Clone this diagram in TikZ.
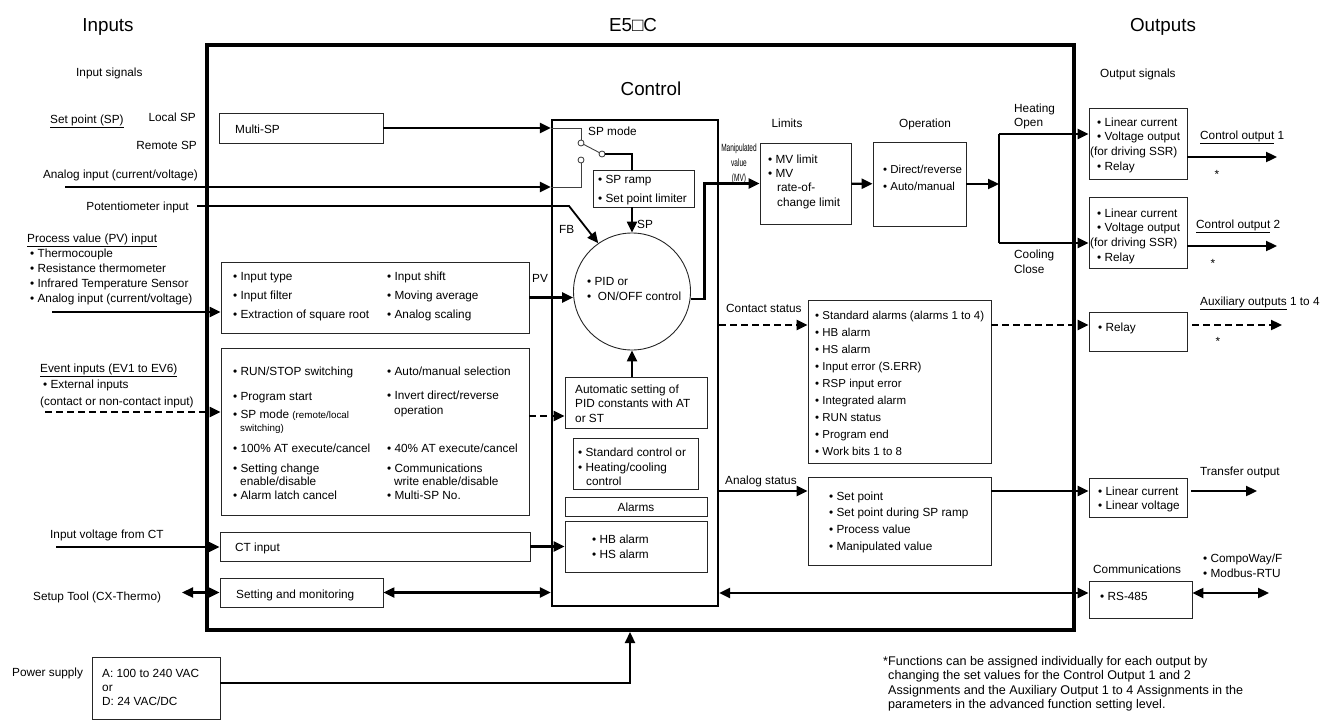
\documentclass[tikz,border=0pt]{standalone}
\usepackage{fontspec}
\setmainfont{Liberation Sans}
\usetikzlibrary{arrows.meta,fit}

\tikzset{
  lbl/.style={inner sep=0pt, anchor=base west, font=\fontsize{11.8}{13.5}\selectfont},
  head/.style={inner sep=0pt, anchor=base, font=\fontsize{18.8}{22}\selectfont},
  box/.style={draw=black!85, line width=0.9pt, inner sep=0pt},
  wire/.style={line width=2.3pt},
  dwire/.style={line width=2.3pt, dash pattern=on 7pt off 4pt},
  swline/.style={line width=0.9pt, draw=black!75},
  contact/.style={circle, draw=black!80, fill=white, line width=0.8pt, inner sep=0pt, minimum size=6pt},
}

\begin{document}
\begin{tikzpicture}[x=1pt,y=-1pt,>={Triangle[length=11pt,width=10pt]}]
  \useasboundingbox (0,0) rectangle (1331,720);

  % headings
  \node[head] (hin)  at (108,31)  {Inputs};
  \node[head] (hdev) at (633,31)  {E5□C};
  \node[head] (hout) at (1163,31) {Outputs};

  % device frame and boxes
  \node[draw, line width=4pt, inner sep=0pt, fit={(207,45) (1074,630)}] (e5c) {};
  \node[head] (hctl) at (651,95) {Control};

  \node[box, fit={(219,113) (383,143)}] (msp) {};
  \node[box, fit={(221,262) (529,333)}] (pvbox) {};
  \node[box, fit={(221,348) (529,515)}] (evbox) {};
  \node[box, fit={(220,532) (530,561)}] (ctbox) {};
  \node[box, fit={(220,578) (383,607)}] (setbox) {};
  \node[box, fit={(92,657) (220,719)}] (pwrbox) {};

  \node[box, draw=black, line width=2.2pt, fit={(552,120) (718,606)}] (ctrl) {};
  \node[box, fit={(593,170) (694,207)}] (ramp) {};
  \node[circle, draw=black!85, line width=0.9pt, inner sep=0pt, minimum size=117pt] (pid) at (632,291.5) {};
  \node[box, fit={(565,377) (707,428)}] (auto) {};
  \node[box, fit={(573,438) (698,489)}] (stdc) {};
  \node[box, fit={(565,497) (707,516)}] (almh) {};
  \node[box, fit={(565,521) (707,572)}] (alm) {};

  \node[box, fit={(760,143) (851,224)}] (lim) {};
  \node[box, fit={(873,142) (966,226)}] (op) {};
  \node[box, fit={(808,300) (991,463)}] (cont) {};
  \node[box, fit={(808,477) (991,565)}] (ana) {};

  \node[box, fit={(1089,108) (1187,179)}] (out1) {};
  \node[box, fit={(1089,197) (1187,268)}] (out2) {};
  \node[box, fit={(1089,312) (1187,351)}] (relay) {};
  \node[box, fit={(1089,478) (1187,517)}] (trans) {};
  \node[box, fit={(1089,581) (1192,618)}] (comm) {};

  % input side texts
  \node[lbl] (insig) at (76,76) {Input signals};
  \node[lbl] (spin) at (50,123) {\underline{Set point (SP)}};
  \node[lbl, anchor=base east] (lsp) at (196,121) {Local SP};
  \node[lbl, anchor=base east] (rsp) at (197,149) {Remote SP};
  \node[lbl, anchor=base east] (aint) at (198,178) {Analog input (current/voltage)};
  \node[lbl, anchor=base east] (pott) at (189,210) {Potentiometer input};
  \node[lbl] (pvt) at (27,242) {\underline{Process value (PV) input}};
  \foreach \t [count=\i] in {Thermocouple, Resistance thermometer, Infrared Temperature Sensor, Analog input (current/voltage)}
    \node[lbl] (pvs\i) at (30,{241.7+15.3*\i}) {• \t};
  \node[lbl] (evt) at (40,372) {\underline{Event inputs (EV1 to EV6)}};
  \node[lbl] (extt) at (43,388) {• External inputs};
  \node[lbl] (cntt) at (40,405) {(contact or non-contact input)};
  \node[lbl] (ctt) at (50,538) {Input voltage from CT};
  \node[lbl] (toolt) at (33,600) {Setup Tool (CX-Thermo)};
  \node[lbl] (pwrt) at (12,676) {Power supply};

  % left column box texts
  \node[lbl] (mspt) at (235,133) {Multi-SP};
  \foreach \a/\b [count=\i] in {Input type/Input shift, Input filter/Moving average, Extraction of square root/Analog scaling} {
    \node[lbl] (pva\i) at (233,{261+19*\i}) {• \a};
    \node[lbl] (pvb\i) at (387,{261+19*\i}) {• \b};
  }
  \node[lbl] (ev1) at (233,375) {• RUN/STOP switching};
  \node[lbl] (ev2) at (233,400) {• Program start};
  \node[lbl] (ev3) at (233,418) {• SP mode {\fontsize{9.8}{11}\selectfont (remote/local}};
  \node[lbl, font=\fontsize{9.8}{11}\selectfont] (ev3b) at (240,431) {switching)};
  \node[lbl] (ev4) at (233,452) {• 100\% AT execute/cancel};
  \node[lbl] (ev5) at (233,472) {• Setting change};
  \node[lbl] (ev5b) at (240,485) {enable/disable};
  \node[lbl] (ev6) at (233,499) {• Alarm latch cancel};
  \node[lbl] (ew1) at (387,375) {• Auto/manual selection};
  \node[lbl] (ew2) at (387,399) {• Invert direct/reverse};
  \node[lbl] (ew2b) at (394,414) {operation};
  \node[lbl] (ew3) at (387,452) {• 40\% AT execute/cancel};
  \node[lbl] (ew4) at (387,472) {• Communications};
  \node[lbl] (ew4b) at (394,485) {write enable/disable};
  \node[lbl] (ew5) at (387,499) {• Multi-SP No.};
  \node[lbl] (ctint) at (235,551) {CT input};
  \node[lbl] (sett) at (236,598) {Setting and monitoring};
  \foreach \t [count=\i] in {A: 100 to 240 VAC, or, D: 24 VAC/DC}
    \node[lbl] (pw\i) at (102,{663+14*\i}) {\t};

  % control texts
  \node[lbl] (spmt) at (588,135) {SP mode};
  \node[lbl] (rp1) at (598,183) {• SP ramp};
  \node[lbl] (rp2) at (598,202) {• Set point limiter};
  \node[lbl] (spl) at (637,228) {SP};
  \node[lbl] (fbl) at (559,233) {FB};
  \node[lbl] (pvl) at (532,282) {PV};
  \node[lbl] (pid1) at (587,285) {• PID or};
  \node[lbl] (pid2) at (587,300) {•\ \ ON/OFF control};
  \foreach \t [count=\i] in {Automatic setting of, PID constants with AT, or ST}
    \node[lbl] (at\i) at (575,{378.5+14.5*\i}) {\t};
  \node[lbl] (sc1) at (578,456) {• Standard control or};
  \node[lbl] (sc2) at (578,471) {• Heating/cooling};
  \node[lbl] (sc3) at (586,485) {control};
  \node[lbl, anchor=base] (almt) at (636,511) {Alarms};
  \node[lbl] (al1) at (592,543) {• HB alarm};
  \node[lbl] (al2) at (592,558) {• HS alarm};

  % limits and operation
  \foreach \t [count=\i] in {Manipulated, value, (MV)}
    \node[lbl, anchor=base, font=\fontsize{10.5}{11}\selectfont] (mv\i) at (739,{136+15*\i}) {\scalebox{0.62}[1]{\t}};
  \node[lbl, anchor=base] (limt) at (787,127) {Limits};
  \node[lbl] (lm1) at (768,163) {• MV limit};
  \node[lbl] (lm2) at (768,177) {• MV};
  \node[lbl] (lm3) at (777,191) {rate-of-};
  \node[lbl] (lm4) at (777,206) {change limit};
  \node[lbl, anchor=base] (opt) at (925,127) {Operation};
  \node[lbl, font=\fontsize{11.5}{13}\selectfont] (op1) at (883,173) {• Direct/reverse};
  \node[lbl, font=\fontsize{11.5}{13}\selectfont] (op2) at (883,190) {• Auto/manual};
  \node[lbl] (heatt) at (1014,112) {Heating};
  \node[lbl] (opent) at (1014,126) {Open};
  \node[lbl] (coolt) at (1014,258) {Cooling};
  \node[lbl] (closet) at (1014,273) {Close};

  % status texts
  \node[lbl] (cst) at (726,312) {Contact status};
  \foreach \t [count=\i] in {Standard alarms (alarms 1 to 4), HB alarm, HS alarm, Input error (S.ERR), RSP input error, Integrated alarm, RUN status, Program end, Work bits 1 to 8}
    \node[lbl, font=\fontsize{11.5}{13}\selectfont] (cs\i) at (815,{302+17*\i}) {• \t};
  \node[lbl] (ast) at (725,484) {Analog status};
  \foreach \t [count=\i] in {Set point, Set point during SP ramp, Process value, Manipulated value}
    \node[lbl] (as\i) at (829,{483.3+16.7*\i}) {• \t};

  % output side texts
  \node[lbl] (outsig) at (1100,77) {Output signals};
  \foreach \b/\y in {1/126,2/217} {
    \node[lbl] (ot\b1) at (1097,\y) {• Linear current};
    \node[lbl] (ot\b2) at (1097,{\y+14.7}) {• Voltage output};
    \node[lbl] (ot\b3) at (1090,{\y+29.4}) {(for driving SSR)};
    \node[lbl] (ot\b4) at (1097,{\y+44.1}) {• Relay};
  }
  \node[lbl] (co1t) at (1200,139) {\underline{Control output} 1};
  \node[lbl] (co2t) at (1196,228) {\underline{Control output} 2};
  \node[lbl] (auxt) at (1200,305) {\underline{Auxiliary outputs} 1 to 4};
  \node[lbl] (rl1) at (1098,331) {• Relay};
  \node[lbl] (trt) at (1200,475) {Transfer output};
  \node[lbl] (tr1) at (1098,495) {• Linear current};
  \node[lbl] (tr2) at (1098,509) {• Linear voltage};
  \node[lbl] (commt) at (1093,573) {Communications};
  \node[lbl] (cm1) at (1100,600) {• RS-485};
  \node[lbl] (pr1) at (1203,562) {• CompoWay/F};
  \node[lbl] (pr2) at (1203,577) {• Modbus-RTU};
  \node[lbl, anchor=base] (st1) at (1217,178) {*};
  \node[lbl, anchor=base] (st2) at (1213,267) {*};
  \node[lbl, anchor=base] (st3) at (1218,345) {*};

  % footnote
  \node[lbl, font=\fontsize{12.6}{14}\selectfont] (note1) at (883,665) {*Functions can be assigned individually for each output by};
  \foreach \t [count=\i from 2] in {changing the set values for the Control Output 1 and 2, Assignments and the Auxiliary Output 1 to 4 Assignments in the, parameters in the advanced function setting level.}
    \node[lbl, font=\fontsize{12.6}{14}\selectfont] (note\i) at (888,{650.5+14.6*\i}) {\t};

  % input connectors
  \coordinate (ain) at (65,187);
  \coordinate (pot) at (197,206);
  \coordinate (pvin) at (52,312);
  \coordinate (evin) at (45,412);
  \coordinate (ctin) at (56,547);
  \coordinate (tool) at (182,592.5);
  \draw[wire,->] (msp) -- (msp -| ctrl.west);
  \draw[wire,->] (ain) -- (ain -| ctrl.west);
  \draw[line width=1.8pt,->] (pot) -- (569,206) -- (pid.125);
  \draw[wire,->] (pvin) -- (pvin -| pvbox.west);
  \draw[dwire,->] (evin) -- (evin -| evbox.west);
  \draw[wire,->] (ctin) -- (ctin -| ctbox.west);
  \draw[wire,<->] (tool) -- (tool -| setbox.west);
  \draw[wire,->] (pvbox) -- (pvbox -| pid.west);
  \draw[dwire,->] (evbox.east |- 0,416) -- (auto.west |- 0,416);
  \draw[wire,->] (ctbox) -- (ctbox -| alm.west);
  \draw[wire,<->] (setbox) -- (setbox -| ctrl.west);
  \draw[wire,->] (pwrbox.east |- 0,683) -| (e5c.south -| 630,0);

  % SP mode switch
  \node[contact] (swa) at (581,143) {};
  \node[contact] (swb) at (581,160) {};
  \node[contact] (swc) at (602,154) {};
  \draw[swline] (msp -| ctrl.west) -| (swa);
  \draw[swline] (ain -| ctrl.west) -| (swb);
  \draw[swline] (swa) -- (swc);
  \draw[wire] (swc) -| (pid.north |- ramp.north);
  \draw[wire,->] (pid.north |- ramp.south) -- (pid.north);
  \draw[wire,->] (auto.north -| pid.south) -- (pid.south);

  % control to outputs
  \draw[wire,->] (pid.-7) -- ++(14,0) |- (lim);
  \draw[wire,->] (lim) -- (op);
  \coordinate (jn) at (999,184);
  \coordinate (heat) at (999,134);
  \coordinate (cool) at (999,243);
  \draw[wire,->] (op) -- (jn);
  \draw[wire] (heat) -- (cool);
  \draw[wire,->] (heat) -- (heat -| out1.west);
  \draw[wire,->] (cool) -- (cool -| out2.west);
  \coordinate (co1) at (1277,157);
  \coordinate (co2) at (1277,246);
  \draw[wire,->] (co1 -| out1.east) -- (co1);
  \draw[wire,->] (co2 -| out2.east) -- (co2);

  \draw[dwire,->] (ctrl.east |- 0,325) -- (cont.west |- 0,325);
  \draw[dwire,->] (cont.east |- 0,325) -- (relay.west |- 0,325);
  \coordinate (aux) at (1282,325);
  \draw[dwire,->,shorten <=5pt] (aux -| relay.east) -- (aux);
  \draw[wire,->] (ctrl.east |- 0,491) -- (ana.west |- 0,491);
  \draw[wire,->] (ana.east |- 0,491) -- (trans.west |- 0,491);
  \coordinate (tro) at (1257,491);
  \draw[wire,->,shorten <=4pt] (tro -| trans.east) -- (tro);
  \draw[wire,<->] (ctrl.east |- 0,593) -- (comm.west |- 0,593);
  \coordinate (bus) at (1269,593);
  \draw[wire,<->] (bus -| comm.east) -- (bus);
\end{tikzpicture}
\end{document}
